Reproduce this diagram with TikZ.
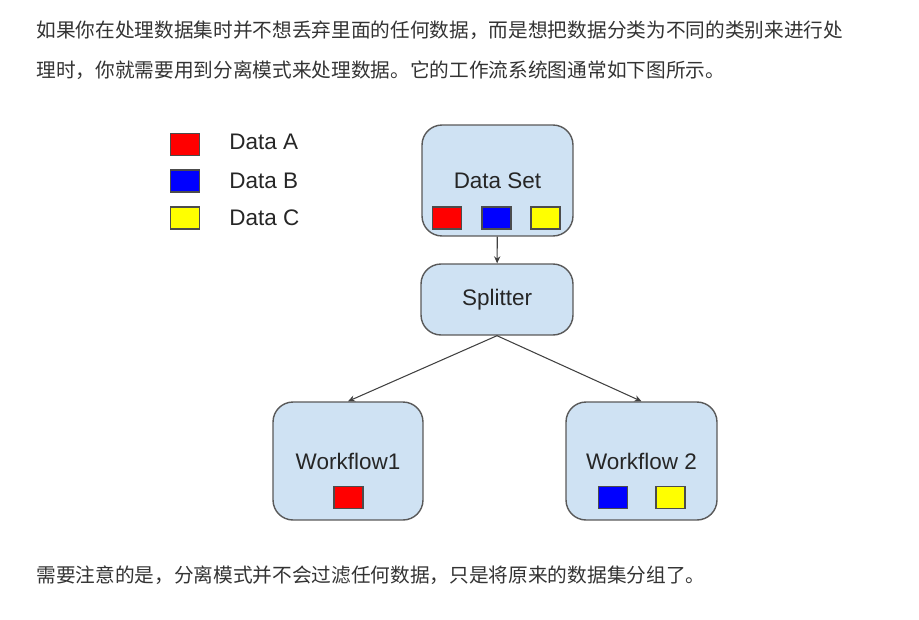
\documentclass[tikz,border=0pt]{standalone}
\usepackage{fontspec}
\setmainfont{Liberation Sans}
\newfontfamily\cjk{Noto Sans CJK SC}
\usetikzlibrary{positioning, arrows.meta}
\definecolor{boxblue}{HTML}{CFE2F3}
\definecolor{boxline}{HTML}{595959}
\definecolor{txtgray}{HTML}{333333}
\definecolor{dataa}{HTML}{FF0000}
\definecolor{datab}{HTML}{0000FF}
\definecolor{datac}{HTML}{FFFF00}
\tikzstyle{block} = [rectangle, rounded corners=0.4cm, minimum width=3.02cm, minimum height=2.22cm, text centered, draw=boxline, line width=0.8pt, fill=boxblue, text=black!85, font=\fontsize{12.8}{15}\selectfont]
\tikzstyle{chip} = [rectangle, minimum width=0.58cm, minimum height=0.44cm, inner sep=0pt, draw=black!70, line width=0.6pt]
\tikzstyle{legend} = [anchor=west, inner sep=0pt, text=black!85, font=\fontsize{12.8}{15}\selectfont]
\tikzstyle{para} = [anchor=west, inner sep=0pt, text=txtgray, font=\cjk\fontsize{11.2}{13}\selectfont]
\tikzstyle{arrow} = [line width=0.6pt, draw=black!75, -{Stealth[length=4pt,width=3.6pt]}]

\begin{document}
\begin{tikzpicture}[x=0.02cm, y=-0.02cm]
			\useasboundingbox (0,0) rectangle (919,619);
			
			\node (line1) [para] at (36,30) {如果你在处理数据集时并不想丢弃里面的任何数据，而是想把数据分类为不同的类别来进行处};
			\node (line2) [para] at (36,70) {理时，你就需要用到分离模式来处理数据。它的工作流系统图通常如下图所示。};
			
			% legend
			\node (keya) [chip, fill=dataa] at (185,144.5) {};
			\node (keyb) [chip, fill=datab] at (185,181) {};
			\node (keyc) [chip, fill=datac] at (185,218) {};
			\node (texta) [legend] at (229,142) {Data A};
			\node (textb) [legend] at (229,181) {Data B};
			\node (textc) [legend] at (229,218) {Data C};
			
			% boxes
			\node (dataset) [block] at (497.5,180.5) {\raisebox{-2pt}{Data Set}};
			\node (splitter) [block, minimum width=3.04cm, minimum height=1.42cm] at (497,299.5) {Splitter};
			\node (flow1) [block, minimum width=3cm, minimum height=2.36cm] at (348,461) {Workflow1};
			\node (flow2) [block, minimum height=2.36cm] at (641.5,461) {Workflow 2};
			
			\node (seta) [chip, fill=dataa] at (447,218) {};
			\node (setb) [chip, fill=datab] at (496.5,218) {};
			\node (setc) [chip, fill=datac] at (545.5,218) {};
			\node (flowa) [chip, fill=dataa] at (348.5,497.5) {};
			\node (flowb) [chip, fill=datab] at (613,497.5) {};
			\node (flowc) [chip, fill=datac] at (670.5,497.5) {};
			
			%arrows
			\draw [arrow] (dataset) -- (splitter);
			\draw [arrow] (splitter.south) -- (flow1.north);
			\draw [arrow] (splitter.south) -- (flow2.north);
			
			\node (line3) [para] at (36,575) {需要注意的是，分离模式并不会过滤任何数据，只是将原来的数据集分组了。};
		\end{tikzpicture}
\end{document}
